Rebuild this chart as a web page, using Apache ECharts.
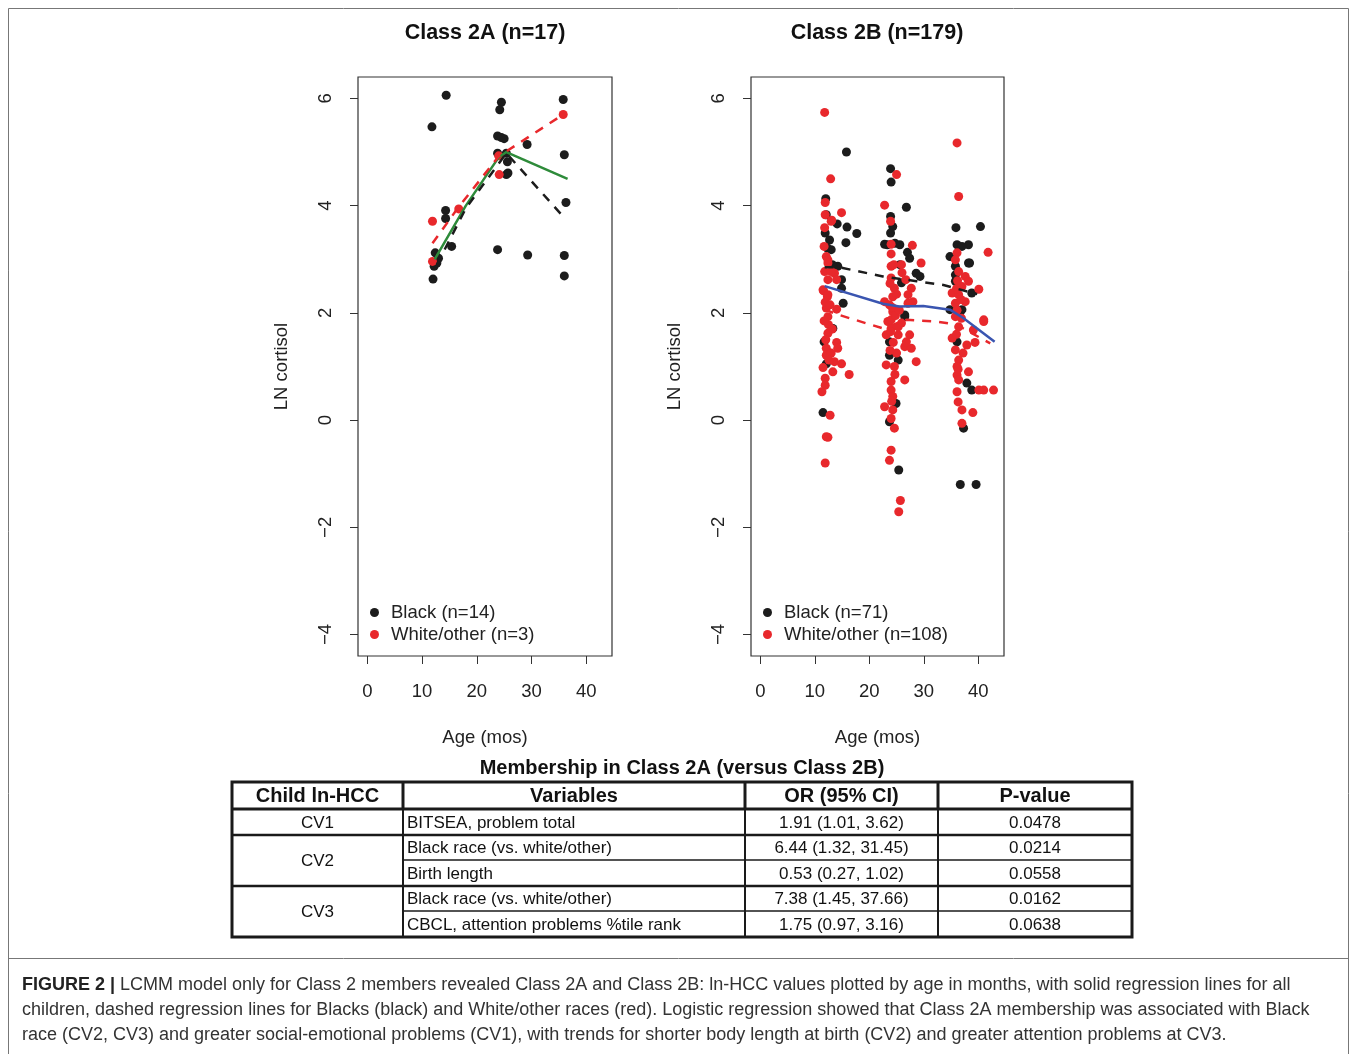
<!DOCTYPE html>
<html>
<head>
<meta charset="utf-8">
<script src="https://cdn.jsdelivr.net/npm/echarts@6/dist/echarts.min.js"></script>
<style>
html,body{margin:0;padding:0;background:#fff;}
#chart{width:1357px;height:1054px;}
</style>
</head>
<body>
<div id="chart"></div>
<script>
// ---------------- DATA ----------------
var panelTitles = ['Class 2A (n=17)', 'Class 2B (n=179)'];
var xTicks = [0, 10, 20, 30, 40];
var yTicks = [-4, -2, 0, 2, 4, 6];
var xAxisTitle = 'Age (mos)';
var yAxisTitle = 'LN cortisol';
var legendLeft = ['Black (n=14)', 'White/other (n=3)'];
var legendRight = ['Black (n=71)', 'White/other (n=108)'];

// Class 2A points [age, ln cortisol]
var leftBlack = [[14.4,6.06],[11.8,5.47],[24.5,5.93],[24.2,5.79],[35.8,5.98],[23.8,5.30],[24.5,5.27],[25.0,5.25],
  [23.8,4.98],[25.4,4.98],[25.6,4.82],[25.4,4.58],[25.7,4.61],[29.2,5.14],[36.0,4.95],[36.3,4.06],[14.3,3.91],
  [14.3,3.76],[15.4,3.24],[23.8,3.18],[29.3,3.08],[36.0,3.07],[36.0,2.69],[12.0,2.63],[12.4,3.12],[13.0,3.02],
  [12.2,2.87],[12.7,2.93]];
var leftRed = [[35.8,5.70],[11.9,3.71],[16.7,3.94],[24.0,4.93],[24.1,4.58],[11.9,2.96]];
// Class 2A regression lines
var leftAllLine = [[12.3,3.0],[18,4.0],[24,4.9],[25.4,5.0],[36.6,4.5]];
var leftBlackLine = [[12.7,2.9],[18,3.95],[25.4,4.98],[35.5,3.83]];
var leftRedLine = [[11.9,3.3],[16.5,3.95],[24.0,4.92],[35.8,5.7]];

// Class 2B points
var rightBlack = [
  [15.8,5.00],[12.0,4.13],[14.1,3.66],[15.9,3.60],[17.7,3.48],[15.7,3.31],[11.9,3.49],[12.7,3.36],[13.0,3.18],
  [14.2,2.87],[13.3,2.87],[14.9,2.62],[15.2,2.18],[13.3,1.71],[11.7,1.46],[12.1,1.05],[11.5,0.14],[12.1,3.83],
  [12.3,3.21],[13.2,2.90],[14.9,2.46],
  [23.9,4.69],[24.0,4.44],[26.8,3.97],[23.9,3.80],[24.3,3.61],[23.9,3.49],[22.8,3.28],[25.6,3.27],[27.0,3.13],
  [27.4,3.02],[25.6,2.90],[28.6,2.74],[25.9,2.56],[26.5,1.93],[23.7,1.46],[26.5,1.96],[23.7,1.21],[25.3,1.12],
  [24.9,0.31],[23.7,-0.03],[25.4,-0.93],[23.3,3.27],[24.7,3.30],[29.3,2.68],
  [35.9,3.59],[40.4,3.61],[36.1,3.27],[38.2,3.27],[34.8,3.05],[35.8,2.87],[38.2,2.93],[35.8,2.59],[38.8,2.37],
  [36.7,2.02],[34.8,2.06],[37.0,2.06],[36.1,1.46],[37.9,0.69],[38.8,0.56],[37.3,-0.15],[36.7,-1.20],[39.6,-1.20],
  [37.0,3.24],[35.8,2.71],[38.4,2.93]];
var rightRed = [
  [11.8,5.74],[12.9,4.50],[11.9,4.06],[14.9,3.87],[11.9,3.83],[13.1,3.73],[11.8,3.59],[11.7,3.24],[12.1,3.05],
  [12.4,2.93],[11.8,2.77],[13.6,2.74],[14.0,2.62],[12.4,2.62],[11.5,2.43],[12.3,2.30],[12.1,2.09],[14.0,2.07],
  [12.4,1.93],[12.5,1.78],[12.4,1.62],[14.0,1.45],[14.2,1.34],[12.1,1.34],[12.1,1.21],[13.6,1.09],[14.9,1.05],
  [11.5,0.98],[13.3,0.90],[16.3,0.85],[11.9,0.78],[11.9,0.65],[11.3,0.53],[12.8,0.09],[12.1,-0.31],[12.4,-0.32],
  [11.9,-0.80],[13.0,3.71],[12.4,2.99],[13.0,2.77],[11.6,2.41],[12.4,2.34],[11.9,2.20],[12.8,2.15],[11.7,1.85],
  [13.2,1.70],[12.0,1.50],[13.0,1.25],[12.6,1.12],
  [25.0,4.58],[22.8,4.01],[23.9,3.71],[24.0,3.28],[27.9,3.26],[24.0,3.10],[29.5,2.93],[24.0,2.87],[24.0,2.65],
  [24.6,2.46],[27.7,2.46],[27.1,2.34],[24.3,2.30],[22.8,2.21],[28.0,2.21],[24.3,2.02],[23.4,1.84],[25.9,1.81],
  [24.0,1.71],[25.3,1.59],[27.4,1.59],[26.5,1.37],[27.7,1.34],[23.7,2.15],[27.1,2.18],[24.0,1.87],[25.3,1.74],
  [23.1,1.59],[26.8,1.46],[23.1,1.03],[28.6,1.09],[24.6,1.00],[26.5,0.75],[24.0,0.72],[24.0,0.56],[24.3,0.44],
  [22.8,0.25],[24.3,0.19],[24.0,0.03],[24.6,-0.15],[24.0,-0.56],[23.7,-0.75],[25.7,-1.50],[25.4,-1.71],
  [24.5,2.90],[23.8,2.55],[25.0,2.35],[24.2,2.10],[24.8,1.95],[23.9,1.65],[24.4,1.45],[25.0,1.25],[23.8,1.30],
  [24.7,0.85],[24.1,0.35],[26.0,2.75],[25.5,2.05],[25.9,2.90],[26.7,2.62],
  [36.1,5.17],[36.4,4.17],[36.1,3.12],[41.8,3.13],[35.8,2.99],[36.4,2.77],[37.6,2.68],[38.2,2.59],[37.0,2.49],
  [40.1,2.44],[35.2,2.37],[36.4,2.34],[37.6,2.21],[35.8,2.18],[35.8,1.93],[41.0,1.87],[41.0,1.84],[36.4,1.74],
  [39.1,1.68],[35.2,1.53],[37.9,1.40],[39.4,1.45],[35.8,1.31],[36.4,1.12],[36.1,1.00],[38.2,0.90],[36.1,0.84],
  [36.4,0.75],[41.0,0.56],[42.8,0.56],[40.1,0.56],[36.1,0.53],[36.3,0.34],[37.0,0.19],[39.0,0.14],[37.0,-0.06],
  [36.2,2.60],[36.0,2.45],[36.8,2.25],[36.1,2.05],[36.9,1.90],[36.0,1.60],[37.2,1.25],[36.3,0.95]];
// Class 2B regression lines
var rightAllLine = [[11.8,2.50],[22.5,2.17],[25.5,2.12],[29.9,2.13],[34.8,2.06],[37.3,1.90],[43.0,1.46]];
var rightBlackLine = [[11.8,2.85],[14.5,2.85],[22.5,2.68],[28.7,2.59],[33.6,2.52],[39.8,2.35]];
var rightRedLine = [[11.8,2.06],[14.5,1.96],[22.5,1.71],[26.8,1.87],[32.3,1.84],[36.0,1.78],[42.2,1.43]];

// Table
var tableTitle = 'Membership in Class 2A (versus Class 2B)';
var tableHeaders = ['Child ln-HCC', 'Variables', 'OR (95% CI)', 'P-value'];
var tableGroups = ['CV1', 'CV2', 'CV3'];
var tableGroupSizes = [1, 2, 2];
var tableVariables = ['BITSEA, problem total', 'Black race (vs. white/other)', 'Birth length',
  'Black race (vs. white/other)', 'CBCL, attention problems %tile rank'];
var tableOR = ['1.91 (1.01, 3.62)', '6.44 (1.32, 31.45)', '0.53 (0.27, 1.02)', '7.38 (1.45, 37.66)', '1.75 (0.97, 3.16)'];
var tableP = ['0.0478', '0.0214', '0.0558', '0.0162', '0.0638'];

// Caption
var captionLines = [
  'LCMM model only for Class 2 members revealed Class 2A and Class 2B: ln-HCC values plotted by age in months, with solid regression lines for all',
  'children, dashed regression lines for Blacks (black) and White/other races (red). Logistic regression showed that Class 2A membership was associated with Black',
  'race (CV2, CV3) and greater social-emotional problems (CV1), with trends for shorter body length at birth (CV2) and greater attention problems at CV3.'
];
var captionLead = 'FIGURE 2 |';

// ---------------- STYLE ----------------
var FF = '"Liberation Sans", Arial, Helvetica, sans-serif';
var C_BLACK = '#1c1c1c', C_RED = '#e8282c', C_GREEN = '#2e8b3a', C_BLUE = '#3a55b0';
var INK = '#222';
var FS = 18.5;

var chart = echarts.init(document.getElementById('chart'), null, {renderer: 'canvas'});

var grids = [
  {left: 358, top: 77, width: 254, height: 579},
  {left: 751, top: 77, width: 253, height: 579}
];

function mkX(i) {
  return {
    type: 'value', gridIndex: i, min: -1.72, max: 44.72,
    name: xAxisTitle, nameLocation: 'middle', nameGap: 72,
    nameTextStyle: {fontFamily: FF, fontSize: FS, color: INK},
    axisLine: {show: false, onZero: false},
    splitLine: {show: false},
    axisTick: {show: true, length: 8, inside: false, customValues: xTicks, lineStyle: {color: '#333', width: 1}},
    axisLabel: {customValues: xTicks, margin: 26, fontFamily: FF, fontSize: FS, color: INK}
  };
}
function mkY(i) {
  return {
    type: 'value', gridIndex: i, min: -4.4, max: 6.4,
    name: yAxisTitle, nameLocation: 'middle', nameGap: 67, nameRotate: 90,
    nameTextStyle: {fontFamily: FF, fontSize: FS, color: INK},
    axisLine: {show: false, onZero: false},
    splitLine: {show: false},
    axisTick: {show: true, length: 8, inside: false, customValues: yTicks, lineStyle: {color: '#333', width: 1}},
    axisLabel: {customValues: yTicks, rotate: 90, margin: 23, fontFamily: FF, fontSize: FS, color: INK,
      formatter: function (v) { return v < 0 ? '\u2212' + Math.abs(v) : String(v); }}
  };
}

function scatter(name, data, color, idx, z) {
  return {name: name, type: 'scatter', xAxisIndex: idx, yAxisIndex: idx, data: data,
    symbol: 'circle', symbolSize: 9, itemStyle: {color: color, opacity: 1}, z: z,
    emphasis: {disabled: true}, silent: true};
}
function line(data, color, dashed, idx) {
  return {type: 'line', xAxisIndex: idx, yAxisIndex: idx, data: data, showSymbol: false, symbol: 'none',
    lineStyle: {color: color, width: 2.5, type: dashed ? [9, 8] : 'solid'}, z: 6, silent: true,
    emphasis: {disabled: true}};
}

// ---- graphic: titles, table, caption, frame ----
var graphics = [];
graphics.push({type: 'rect', shape: {x: 8.5, y: 8.5, width: 1340, height: 1060}, style: {fill: 'none', stroke: '#777', lineWidth: 1}, z: 0});
graphics.push({type: 'line', shape: {x1: 8.5, y1: 958.5, x2: 1348.5, y2: 958.5}, style: {stroke: '#777', lineWidth: 1}});
var titleX = [485, 877];
for (var t = 0; t < panelTitles.length; t++) {
  graphics.push({type: 'text', x: titleX[t], y: 33, style: {text: panelTitles[t], font: 'bold 21.5px ' + FF,
    fill: '#111', align: 'center', verticalAlign: 'middle', textAlign: 'center', textVerticalAlign: 'middle'}});
}

// table geometry
var colX = [232, 403, 745, 938, 1132];
var rowY = [782, 809, 835, 860, 886, 911, 937];
graphics.push({type: 'text', x: 682, y: 768, style: {text: tableTitle, font: 'bold 20px ' + FF, fill: '#111',
  align: 'center', verticalAlign: 'middle', textAlign: 'center', textVerticalAlign: 'middle'}});
function hl(x1, x2, y, w) { graphics.push({type: 'line', shape: {x1: x1, y1: y, x2: x2, y2: y}, style: {stroke: '#1a1a1a', lineWidth: w}, z: 10}); }
function vl(x, y1, y2, w) { graphics.push({type: 'line', shape: {x1: x, y1: y1, x2: x, y2: y2}, style: {stroke: '#1a1a1a', lineWidth: w}, z: 10}); }
function txt(s, x, y, font, align) {
  graphics.push({type: 'text', x: x, y: y, style: {text: s, font: font, fill: '#111', align: align, verticalAlign: 'middle',
    textAlign: align, textVerticalAlign: 'middle'}, z: 11});
}
// header
for (var h = 0; h < tableHeaders.length; h++) {
  txt(tableHeaders[h], (colX[h] + colX[h + 1]) / 2, (rowY[0] + rowY[1]) / 2 + 1, 'bold 20px ' + FF, 'center');
}
// body
var r = 0;
for (var g = 0; g < tableGroups.length; g++) {
  var yTop = rowY[1 + r], yBot = rowY[1 + r + tableGroupSizes[g]];
  txt(tableGroups[g], (colX[0] + colX[1]) / 2, (yTop + yBot) / 2 + 1, '17px ' + FF, 'center');
  for (var k = 0; k < tableGroupSizes[g]; k++) {
    var ya = rowY[1 + r], yb = rowY[2 + r];
    var ym = (ya + yb) / 2 + 1;
    txt(tableVariables[r], colX[1] + 4, ym, '17px ' + FF, 'left');
    txt(tableOR[r], (colX[2] + colX[3]) / 2, ym, '17px ' + FF, 'center');
    txt(tableP[r], (colX[3] + colX[4]) / 2, ym, '17px ' + FF, 'center');
    if (k < tableGroupSizes[g] - 1) hl(colX[1], colX[4], yb, 1.5);
    r++;
  }
  if (g < tableGroups.length - 1) hl(colX[0], colX[4], yBot, 2.5);
}
// header lines and outer frame
hl(colX[0], colX[4], rowY[1], 3);
for (var c = 1; c < colX.length - 1; c++) { vl(colX[c], rowY[0], rowY[1], 3); vl(colX[c], rowY[1], rowY[6], 2); }
graphics.push({type: 'rect', shape: {x: colX[0], y: rowY[0], width: colX[4] - colX[0], height: rowY[6] - rowY[0]},
  style: {fill: 'none', stroke: '#1a1a1a', lineWidth: 3}, z: 12});

// caption
var capY = [985, 1010, 1035];
graphics.push({type: 'text', x: 22, y: capY[0], style: {text: '{b|' + captionLead + '} ' + captionLines[0],
  font: '18px ' + FF, fill: '#333', verticalAlign: 'middle', textVerticalAlign: 'middle',
  rich: {b: {fontWeight: 'bold', fontSize: 18, fontFamily: FF, fill: '#222', color: '#222'}}}});
for (var l = 1; l < captionLines.length; l++) {
  graphics.push({type: 'text', x: 22, y: capY[l], style: {text: captionLines[l], font: '18px ' + FF, fill: '#333',
    verticalAlign: 'middle', textVerticalAlign: 'middle'}});
}

function mkLegend(names, left) {
  return {data: names, orient: 'vertical', left: left, top: 603, padding: 0, itemWidth: 9, itemHeight: 9, itemGap: 3,
    icon: 'circle', selectedMode: false,
    textStyle: {fontFamily: FF, fontSize: FS, color: INK, lineHeight: 19, padding: [0, 0, 0, 7]}};
}

var option = {
  backgroundColor: '#fff',
  animation: false,
  grid: grids.map(function (gd) { return Object.assign({show: true, borderColor: '#333', borderWidth: 1.2, backgroundColor: '#fff'}, gd); }),
  xAxis: [mkX(0), mkX(1)],
  yAxis: [mkY(0), mkY(1)],
  legend: [mkLegend(legendLeft, 370), mkLegend(legendRight, 763)],
  series: [
    scatter(legendLeft[0], leftBlack, C_BLACK, 0, 2),
    scatter(legendLeft[1], leftRed, C_RED, 0, 3),
    line(leftAllLine, C_GREEN, false, 0),
    line(leftBlackLine, C_BLACK, true, 0),
    line(leftRedLine, C_RED, true, 0),
    scatter(legendRight[0], rightBlack, C_BLACK, 1, 2),
    scatter(legendRight[1], rightRed, C_RED, 1, 3),
    line(rightAllLine, C_BLUE, false, 1),
    line(rightBlackLine, C_BLACK, true, 1),
    line(rightRedLine, C_RED, true, 1)
  ],
  graphic: graphics
};
chart.setOption(option);
</script>
</body>
</html>
